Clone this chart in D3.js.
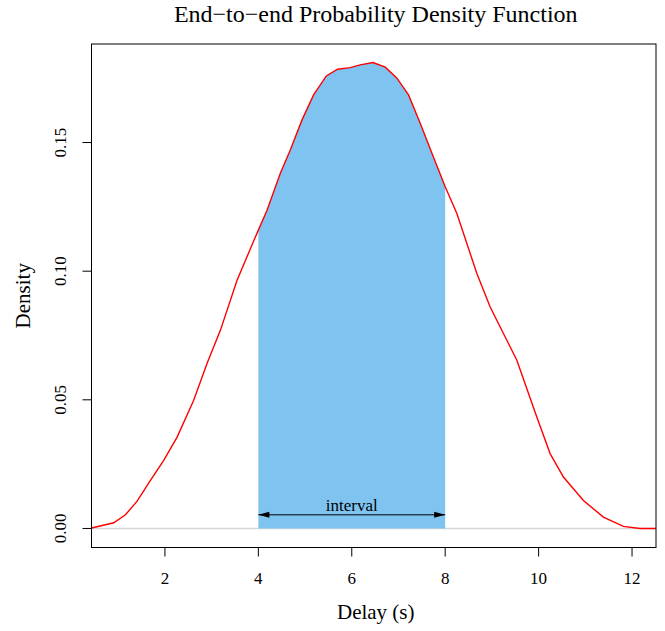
<!DOCTYPE html>
<html><head><meta charset="utf-8">
<script src="https://cdn.jsdelivr.net/npm/d3@7"></script>
<style>body{margin:0;background:#fff}text{font-family:"Liberation Serif","Times New Roman",serif;fill:#000}</style>
</head><body>
<svg id="c" width="665" height="631"></svg>
<script>
const delay = [0.43, 0.905, 1.155, 1.405, 1.69, 1.974, 2.261, 2.616, 2.903, 3.187, 3.544, 3.972, 4.186, 4.471, 4.684, 4.935, 5.183, 5.455, 5.696, 5.968, 6.182, 6.454, 6.717, 6.967, 7.215, 7.465, 7.716, 8.0, 8.25, 8.678, 8.963, 9.247, 9.534, 9.961, 10.246, 10.531, 10.959, 11.386, 11.814, 12.171, 12.513];
const density = [0.0002, 0.0022, 0.0053, 0.0106, 0.0187, 0.0265, 0.0355, 0.0498, 0.0642, 0.0770, 0.0965, 0.1148, 0.1237, 0.1381, 0.1471, 0.1588, 0.1685, 0.1759, 0.1785, 0.1791, 0.1802, 0.1811, 0.1793, 0.1750, 0.1685, 0.1575, 0.1458, 0.1328, 0.1224, 0.0991, 0.0861, 0.0758, 0.0654, 0.0433, 0.0291, 0.0200, 0.0109, 0.0044, 0.0008, 0.0000, 0.0000];
const xTicks = [2, 4, 6, 8, 10, 12];
const yTicks = [0.00, 0.05, 0.10, 0.15];
const intervalRange = [4, 8];
const arrowY = 0.0053;
const titleText = "End\u2212to\u2212end Probability Density Function";
const xLabel = "Delay (s)";
const yLabel = "Density";
const intervalLabel = "interval";

const svg = d3.select("#c");
const L = 91.5, R = 656, T = 44, B = 547.5;
const x = d3.scaleLinear().domain([0.428, 12.513]).range([L, R]);
const y = d3.scaleLinear().domain([-0.0074, 0.1883]).range([B, T]);
const pts = delay.map((d, i) => [d, density[i]]);

svg.append("defs").append("clipPath").attr("id", "clip")
  .append("rect").attr("x", L).attr("y", T).attr("width", R - L).attr("height", B - T);
const g = svg.append("g").attr("clip-path", "url(#clip)");

// baseline at zero
g.append("line").attr("x1", L).attr("x2", R).attr("y1", y(0)).attr("y2", y(0))
  .attr("stroke", "#d6d6d6").attr("stroke-width", 1.6);

// shaded interval
function interp(v) {
  for (let i = 0; i < pts.length - 1; i++) {
    if (v >= pts[i][0] && v <= pts[i + 1][0]) {
      const t = (v - pts[i][0]) / (pts[i + 1][0] - pts[i][0]);
      return pts[i][1] + t * (pts[i + 1][1] - pts[i][1]);
    }
  }
  return 0;
}
const a = intervalRange[0], b = intervalRange[1];
const fillPts = [[a, interp(a)]].concat(pts.filter(p => p[0] > a && p[0] < b)).concat([[b, interp(b)]]);
g.append("path").datum(fillPts)
  .attr("d", d3.area().x(d => x(d[0])).y0(y(0)).y1(d => y(d[1])))
  .attr("fill", "#7fc4f0");

// density curve
g.append("path").datum(pts)
  .attr("d", d3.line().x(d => x(d[0])).y(d => y(d[1])))
  .attr("fill", "none").attr("stroke", "#ff0000").attr("stroke-width", 1.4);

// arrow
const ay = y(arrowY), ax1 = x(a), ax2 = x(b);
svg.append("line").attr("x1", ax1).attr("x2", ax2).attr("y1", ay).attr("y2", ay)
  .attr("stroke", "#000").attr("stroke-width", 1);
const hl = 11, hw = 3;
svg.append("path").attr("d", `M${ax1},${ay}L${ax1 + hl},${ay - hw}L${ax1 + hl},${ay + hw}Z`).attr("fill", "#000");
svg.append("path").attr("d", `M${ax2},${ay}L${ax2 - hl},${ay - hw}L${ax2 - hl},${ay + hw}Z`).attr("fill", "#000");
svg.append("text").attr("x", x((a + b) / 2)).attr("y", ay - 3.5).attr("text-anchor", "middle")
  .attr("font-size", 17).text(intervalLabel);

// box
svg.append("rect").attr("x", L).attr("y", T).attr("width", R - L).attr("height", B - T)
  .attr("fill", "none").attr("stroke", "#000").attr("stroke-width", 1);

// x axis
const xa = svg.append("g");
xTicks.forEach(t => {
  xa.append("line").attr("x1", x(t)).attr("x2", x(t)).attr("y1", B).attr("y2", B + 9).attr("stroke", "#000");
  xa.append("text").attr("x", x(t)).attr("y", 584).attr("text-anchor", "middle").attr("font-size", 17).text(t);
});
// y axis
const ya = svg.append("g");
yTicks.forEach(t => {
  ya.append("line").attr("x1", L - 9).attr("x2", L).attr("y1", y(t)).attr("y2", y(t)).attr("stroke", "#000");
  ya.append("text").attr("transform", `translate(65.5,${y(t)}) rotate(-90)`).attr("text-anchor", "middle")
    .attr("font-size", 17).text(d3.format(".2f")(t));
});

svg.append("text").attr("x", (L + R) / 2 + 2).attr("y", 22).attr("text-anchor", "middle").attr("font-size", 24).text(titleText);
svg.append("text").attr("x", (L + R) / 2 + 2).attr("y", 619).attr("text-anchor", "middle").attr("font-size", 21).text(xLabel);
svg.append("text").attr("transform", `translate(30,${(T + B) / 2}) rotate(-90)`).attr("text-anchor", "middle").attr("font-size", 21).text(yLabel);
</script>
</body></html>
